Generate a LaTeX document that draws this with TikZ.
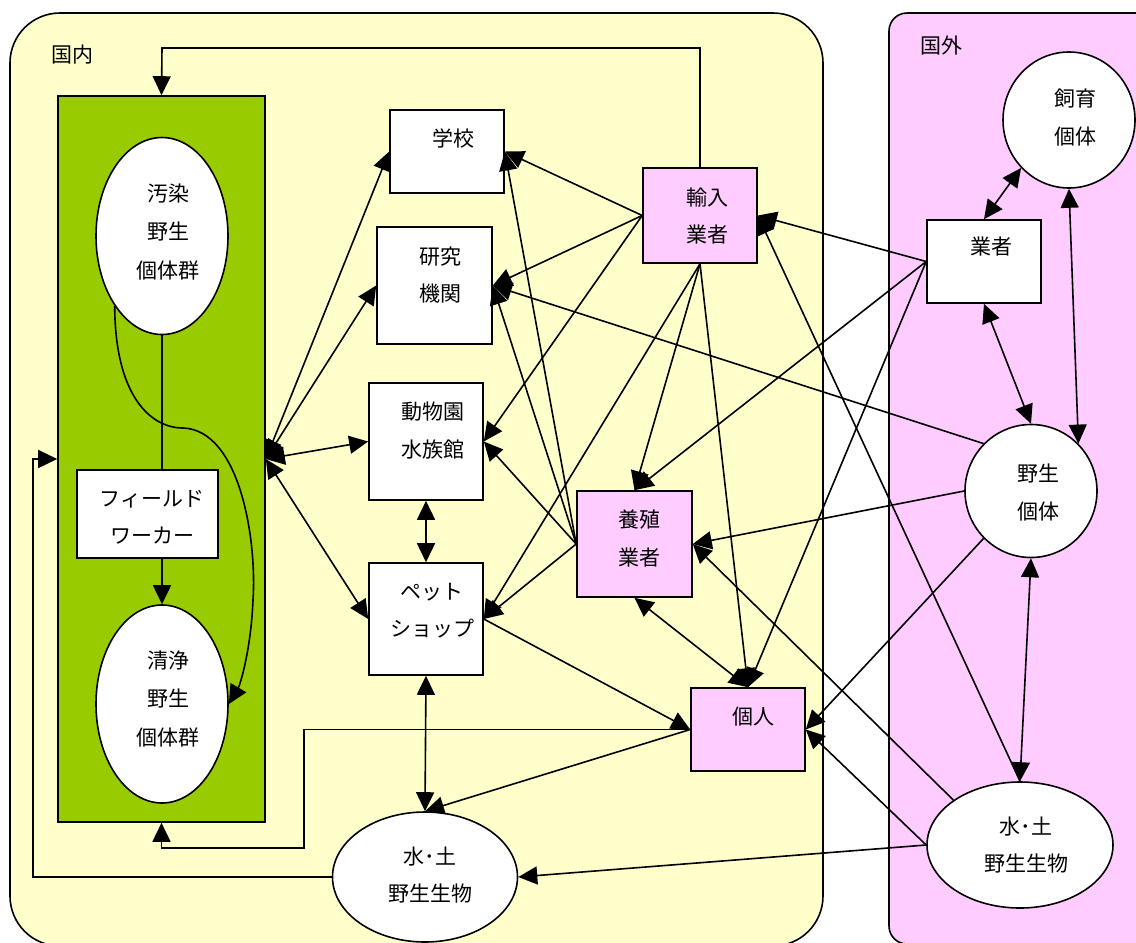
\documentclass[tikz,border=0pt]{standalone}
\usepackage{fontspec}
\setmainfont{Noto Sans CJK JP}
\usetikzlibrary{arrows.meta,shapes.geometric}
\definecolor{ybg}{HTML}{FFFFCC}
\definecolor{pbg}{HTML}{FFCCFF}
\definecolor{gbg}{HTML}{99CC00}
\begin{document}
\begin{tikzpicture}[x=1pt,y=-1pt,line width=1.6pt,
 lbl/.style={font=\fontsize{21pt}{37.5pt}\selectfont,align=center,inner sep=0pt},
 box/.style={draw,fill=white,rectangle,inner sep=0pt},
 pbox/.style={box,fill=pbg},
 ell/.style={draw,fill=white,ellipse,inner sep=0pt},
 arr/.style={-{Triangle[length=19pt,width=18pt]}},
 darr/.style={{Triangle[length=19pt,width=18pt]}-{Triangle[length=19pt,width=18pt]}},
]
\useasboundingbox (0,0) rectangle (1136,943);
\clip (0,0) rectangle (1136,943);
% frames
\draw[fill=ybg,rounded corners=50pt] (10,13) rectangle (823,946);
\draw[fill=pbg,rounded corners=18pt] (889,13) rectangle (1160,944);
\node[lbl] (tdom) at (72,55) {国内};
\node[lbl] (tfor) at (941,46) {国外};
% green area
\node[box,fill=gbg,minimum width=207pt,minimum height=726pt] (green) at (161.5,459) {};
\node[ell,minimum width=132pt,minimum height=197pt] (poll) at (162,236) {};
\node[lbl,font=\fontsize{21pt}{38.5pt}\selectfont] (pollt) at (168,232) {汚染\\野生\\個体群};
\node[ell,minimum width=132pt,minimum height=198pt] (clean) at (162,704) {};
\node[lbl,font=\fontsize{21pt}{38.5pt}\selectfont] (cleant) at (168,699) {清浄\\野生\\個体群};
\node[box,minimum width=141pt,minimum height=88pt] (fw) at (147.5,514) {};
\node[lbl] (fwt) at (152,517.5) {フィールド\\ワーカー};
% domestic boxes
\node[box,minimum width=114pt,minimum height=83pt] (school) at (447,151.5) {};
\node[lbl] (schoolt) at (453,138) {学校};
\node[box,minimum width=115pt,minimum height=117pt] (res) at (434.5,285.5) {};
\node[lbl] (rest) at (440,275) {研究\\機関};
\node[box,minimum width=114pt,minimum height=117pt] (zoo) at (426,441.5) {};
\node[lbl] (zoot) at (433,430.5) {動物園\\水族館};
\node[box,minimum width=114pt,minimum height=112pt] (pet) at (426,619) {};
\node[lbl] (pett) at (432,610.5) {ペット\\ショップ};
\node[pbox,minimum width=115pt,minimum height=106pt] (breed) at (634.5,544) {};
\node[lbl] (breedt) at (639,538.5) {養殖\\業者};
\node[pbox,minimum width=114pt,minimum height=83pt] (person) at (748,729.5) {};
\node[lbl] (persont) at (753,717) {個人};
\node[pbox,minimum width=114pt,minimum height=95pt] (imp) at (700,215.5) {};
\node[lbl] (impt) at (707,216) {輸入\\業者};
\node[ell,minimum width=185pt,minimum height=130pt] (dsoil) at (425,877) {};
\node[lbl] (dsoilt) at (430,875) {水･土\\野生生物};
% foreign
\node[box,minimum width=114pt,minimum height=83pt] (dealer) at (984,261.5) {};
\node[lbl] (dealert) at (991,247) {業者};
\node[ell,minimum width=132pt,minimum height=136pt] (kept) at (1069,120) {};
\node[lbl] (keptt) at (1075,117.5) {飼育\\個体};
\node[ell,minimum width=132pt,minimum height=133pt] (wild) at (1031,491) {};
\node[lbl] (wildt) at (1038,492.5) {野生\\個体};
\node[ell,minimum width=186pt,minimum height=126pt] (fsoil) at (1020,845) {};
\node[lbl] (fsoilt) at (1026,845) {水･土\\野生生物};
% bend points
\coordinate (topbend) at (162,48);
\coordinate (lbend) at (33,459);
\coordinate (bbend) at (304,848);
% green internal
\draw (poll.south) -- (poll.south |- fw.north);
\draw[arr] (fw.south -| clean.north) -- (clean.north);
\draw[arr] (poll.236) .. controls (115,395) and (150,428) .. (183,428)
  .. controls (240,430) and (257,540) .. (253,600)
  .. controls (251,650) and (240,685) .. (clean.east);
% loops
\draw[arr] (imp.north) |- (topbend) -- (green.north);
\draw[arr] (dsoil.west) -| (lbend) -- (green.west);
\draw[arr] (person.west) -| (bbend) -| (green.south);
% green <-> institutions
\draw[darr] (green.east) -- (school.west);
\draw[darr] (green.east) -- (res.west);
\draw[darr] (green.east) -- (zoo.west);
\draw[darr] (green.east) -- (pet.west);
\draw[darr] (zoo.south) -- (pet.north);
\draw[darr] (pet.south) -- (dsoil.north);
\draw[arr] (pet.east) -- (person.west);
\draw[arr] (person.west) -- (dsoil.north);
% importer
\draw[arr] (imp.west) -- (school.east);
\draw[arr] (imp.west) -- (res.east);
\draw[arr] (imp.west) -- (zoo.east);
\draw[arr] (imp.south) -- (pet.east);
\draw[arr] (imp.south) -- (breed.north);
\draw[arr] (imp.south) -- (person.north);
% breeder
\draw[arr] (breed.west) -- (school.east);
\draw[arr] (breed.west) -- (res.east);
\draw[arr] (breed.west) -- (zoo.east);
\draw[arr] (breed.west) -- (pet.east);
\draw[darr] (breed.south) -- (person.north);
% foreign dealer
\draw[arr] (dealer.west) -- (imp.east);
\draw[arr] (dealer.west) -- (breed.north);
\draw[arr] (dealer.west) -- (person.north);
\draw[darr] (kept.225) -- (dealer.north);
\draw[darr] (kept.south) -- (wild.45);
\draw[darr] (dealer.south) -- (wild.north);
\draw[darr] (wild.south) -- (fsoil.north);
% foreign wild
\draw[arr] (wild.135) -- (res.east);
\draw[arr] (wild.west) -- (breed.east);
\draw[arr] (wild.225) -- (person.east);
% foreign soil
\draw[arr] (fsoil.north) -- (imp.east);
\draw[arr] (fsoil.146) -- (breed.east);
\draw[arr] (fsoil.west) -- (person.east);
\draw[arr] (fsoil.west) -- (dsoil.east);
\end{tikzpicture}
\end{document}
